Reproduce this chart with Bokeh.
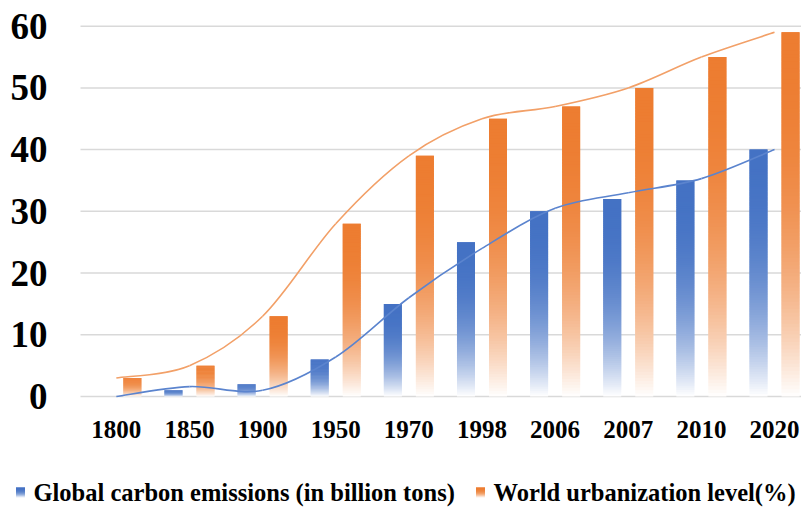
import numpy as np
from bokeh.plotting import figure
from bokeh.layouts import column
from bokeh.models import Range1d, FixedTicker
from bokeh.core.properties import value
from bokeh.embed import file_html
from bokeh.resources import INLINE

# ---- data ----
years = ["1800", "1850", "1900", "1950", "1970", "1998", "2006", "2007", "2010", "2020"]
carbon = [0, 1, 2, 6, 15, 25, 30, 32, 35, 40]          # Global carbon emissions (billion tons)
urban = [3, 5, 13, 28, 39, 45, 47, 50, 55, 59]          # World urbanization level (%)
carbon_curve = [0, 1.6, 1.0, 6.4, 16, 24, 30.5, 33, 35.3, 40]   # smoothed trend line (blue)
urban_curve = [3, 5, 13, 28, 39, 45, 47, 50, 55, 59]            # smoothed trend line (orange)
y_ticks = [0, 10, 20, 30, 40, 50, 60]
y_tick_labels = ["0", "10", "20", "30", "40", "50", "60"]
series_names = ["Global carbon emissions (in billion tons)", "World urbanization level(%)"]

BLUE = "#4472C4"
ORANGE = "#ED7D31"
BW = 0.246
OFF = 0.219
FONT = value("Liberation Serif")
X0, X1 = -0.49, 9.369          # plotting area (gridlines) in category units

p = figure(width=801, height=470, output_backend="svg", toolbar_location=None,
           x_range=Range1d(-1.584, X1), y_range=Range1d(-2.268, 64.16),
           y_axis_location=None,
           min_border_left=0, min_border_right=0, min_border_top=0,
           min_border_bottom=60)
p.outline_line_color = None
p.background_fill_color = "white"
p.grid.grid_line_color = None

# horizontal gridlines
p.segment(x0=[X0] * len(y_ticks), x1=[X1] * len(y_ticks), y0=y_ticks, y1=y_ticks,
          line_color="#D9D9D9", line_width=1.5)

def mix(hexc, a):
    r, g, b = int(hexc[1:3], 16), int(hexc[3:5], 16), int(hexc[5:7], 16)
    return "#%02x%02x%02x" % tuple(int(round(a * c + (1 - a) * 255)) for c in (r, g, b))

def grad_bars(fig, xs_c, vals, width, color, n=100, base=0.0):
    xs, bots, tops, cols = [], [], [], []
    for xc, v in zip(xs_c, vals):
        h = v - base
        if h <= 0:
            continue
        for k in range(n):
            t = (k + 0.5) / n
            a = 1 - (1 - t) ** 2.5
            xs.append(xc)
            bots.append(base + h * k / n)
            tops.append(min(v, base + h * (k + 2.0) / n))
            cols.append(mix(color, a))
    fig.vbar(x=xs, bottom=bots, top=tops, width=width, fill_color=cols, line_color=None)

idx = np.arange(len(years))
grad_bars(p, idx - OFF, carbon, BW, BLUE)
grad_bars(p, idx + OFF, urban, BW, ORANGE)

def smooth(fig, vals, color):
    y = np.array(vals, dtype=float)
    x = np.arange(len(y), dtype=float)
    xp = np.concatenate([[x[0]], x, [x[-1]]])
    yp = np.concatenate([[y[0]], y, [y[-1]]])
    n = len(y)
    x0 = x[:-1]; y0 = y[:-1]; x1 = x[1:]; y1 = y[1:]
    cx0 = x0 + (xp[2:n + 1] - xp[0:n - 1]) / 6.0
    cy0 = y0 + (yp[2:n + 1] - yp[0:n - 1]) / 6.0
    cx1 = x1 - (xp[3:n + 2] - xp[1:n]) / 6.0
    cy1 = y1 - (yp[3:n + 2] - yp[1:n]) / 6.0
    fig.bezier(x0=x0, y0=y0, x1=x1, y1=y1, cx0=cx0, cy0=cy0, cx1=cx1, cy1=cy1,
               line_color=color, line_width=1.6)

smooth(p, urban_curve, "#F2A068")
smooth(p, carbon_curve, "#5B84CE")

# y tick labels (left of the plotting area)
p.text(x=[X0 - 0.451] * len(y_ticks), y=y_ticks, text=y_tick_labels,
       text_font=FONT, text_font_style="bold", text_font_size="37px",
       text_color="black", text_align="right", text_baseline="middle")

# x axis
p.xaxis.ticker = FixedTicker(ticks=list(range(len(years))))
p.xaxis.major_label_overrides = {i: y for i, y in enumerate(years)}
ax = p.xaxis[0]
ax.axis_line_color = None
ax.major_tick_line_color = None
ax.minor_tick_line_color = None
ax.major_label_text_font = "Liberation Serif"
ax.major_label_text_font_style = "bold"
ax.major_label_text_color = "black"
ax.major_label_text_font_size = "25px"
ax.major_label_standoff = 4

# legend strip (separate figure below the chart; 1 data unit = 1 px)
lg = figure(width=801, height=38, output_backend="svg", toolbar_location=None,
            x_range=Range1d(0, 801), y_range=Range1d(0, 38),
            x_axis_location=None, y_axis_location=None,
            min_border_left=0, min_border_right=0, min_border_top=0, min_border_bottom=0)
lg.grid.grid_line_color = None
lg.outline_line_color = None
key_x = [20, 480]      # legend key centres (px)
key_y = 16
for kx, col in zip(key_x, [BLUE, ORANGE]):
    grad_bars(lg, [kx], [key_y + 5], 9, col, n=10, base=key_y - 5)
lg.text(x=[kx + 13 for kx in key_x], y=[key_y, key_y], text=series_names,
        text_font=FONT, text_font_style="bold", text_font_size="24.5px",
        text_color="black", text_baseline="middle", text_align="left")

layout = column(p, lg, spacing=0)
open("out.html", "w").write(file_html(layout, INLINE))
